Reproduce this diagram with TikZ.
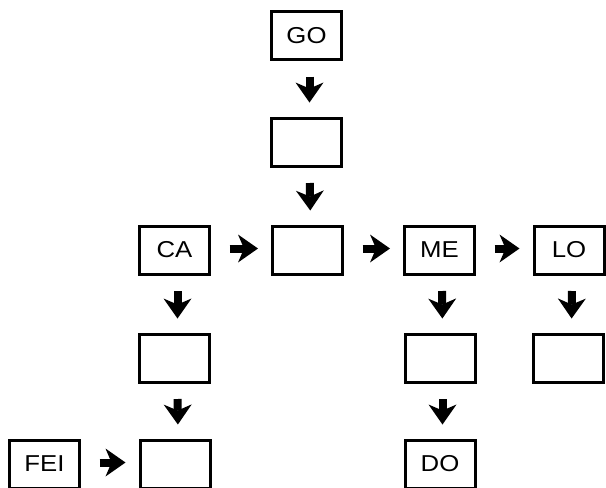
\documentclass[tikz,border=0pt]{standalone}
\usepackage{fontspec}
\setmainfont{Liberation Sans}
\newfontfamily\boxfont[FakeStretch=1.12]{Liberation Sans}
\usetikzlibrary{arrows.meta}
\begin{document}
\begin{tikzpicture}[x=1pt,y=-1pt,
  box/.style={draw, line width=3pt, minimum width=70pt, minimum height=48pt,
    inner sep=0pt, font=\boxfont\fontsize{23}{23}\selectfont},
  bigarrow/.style={line width=8pt,
    -{Stealth[length=20pt,width=28pt,inset=6pt,line width=0pt]}},
  varrow/.style={bigarrow, shorten <=15.5pt, shorten >=14pt},
  harrow/.style={bigarrow, shorten <=18.5pt, shorten >=13pt}]
\useasboundingbox (0,0) rectangle (606,488);
\node[box] (go)  at (306.5,35.5) {GO};
\node[box] (b2)  at (306.5,142) {};
\node[box] (mid) at (307.5,250) {};
\node[box] (ca)  at (174.5,250) {CA};
\node[box] (me)  at (439.5,250) {ME};
\node[box] (lo)  at (569,250) {LO};
\node[box] (cab) at (174.5,358) {};
\node[box] (meb) at (440,358) {};
\node[box] (lob) at (568.5,358) {};
\node[box] (fei) at (44.5,464) {FEI};
\node[box] (cac) at (175,464) {};
\node[box] (do)  at (440,464) {DO};
% vertical arrows
\draw[varrow] ([xshift=3pt]go.south) -- ([xshift=3pt]b2.north);
\draw[varrow] ([xshift=3pt]b2.south) -- ([xshift=3pt]mid.north);
\draw[varrow] ([xshift=3pt]ca.south) -- ([xshift=3pt]cab.north);
\draw[varrow] ([xshift=3pt]cab.south) -- ([xshift=3pt]cac.north);
\draw[varrow] ([xshift=2.5pt]me.south) -- ([xshift=2.5pt]meb.north);
\draw[varrow] ([xshift=2.5pt]meb.south) -- ([xshift=2.5pt]do.north);
\draw[varrow] ([xshift=3pt]lo.south) -- ([xshift=3pt]lob.north);
% horizontal arrows
\draw[harrow] ([yshift=1.5pt]ca.east) -- ([yshift=1.5pt]mid.west);
\draw[harrow] ([yshift=1.5pt]mid.east) -- ([yshift=1.5pt]me.west);
\draw[harrow] ([yshift=1.5pt]me.east) -- ([yshift=1.5pt]lo.west);
\draw[harrow] ([yshift=1.5pt]fei.east) -- ([yshift=1.5pt]cac.west);
\end{tikzpicture}
\end{document}
